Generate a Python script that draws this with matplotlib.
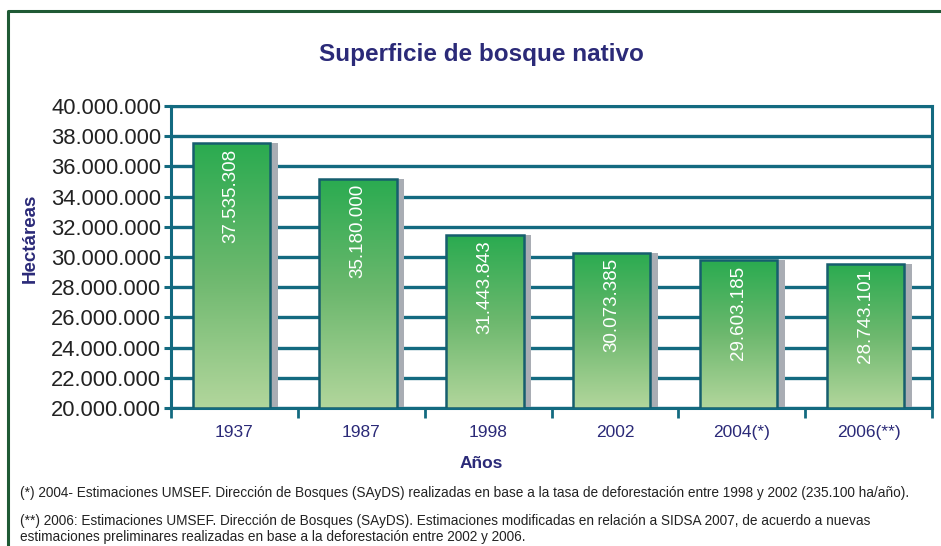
import matplotlib
matplotlib.use("Agg")
import matplotlib.pyplot as plt
import numpy as np
from matplotlib.colors import LinearSegmentedColormap
from matplotlib.lines import Line2D

categories = ["1937", "1987", "1998", "2002", "2004(*)", "2006(**)"]
bar_heights = [37535308, 35180000, 31443843, 30290000, 29780000, 29540000]
value_labels = ["37.535.308", "35.180.000", "31.443.843", "30.073.385", "29.603.185", "28.743.101"]
yticks = list(range(20000000, 40000001, 2000000))
ytick_labels = ["{:,}".format(v).replace(",", ".") for v in yticks]

title = "Superficie de bosque nativo"
xlabel = "Años"
ylabel = "Hectáreas"
notes = [
    "(*) 2004- Estimaciones UMSEF. Dirección de Bosques (SAyDS) realizadas en base a la tasa de deforestación entre 1998 y 2002 (235.100 ha/año).",
    "(**) 2006: Estimaciones UMSEF. Dirección de Bosques (SAyDS). Estimaciones modificadas en relación a SIDSA 2007, de acuerdo a nuevas\nestimaciones preliminares realizadas en base a la deforestación entre 2002 y 2006.",
]

navy = "#2b2a78"
teal = "#136a80"
edge = "#165e6e"
plt.rcParams['font.family'] = ['Liberation Sans', 'DejaVu Sans']

fig = plt.figure(figsize=(9.41, 5.46), dpi=100)
ax = fig.add_axes([171/941, 1-408/546, (932-171)/941, (408-106)/546])

ymin, ymax = 20000000, 40000000
ax.set_ylim(ymin, ymax)
ax.set_xlim(-0.5, len(categories) - 0.5)

cmap = LinearSegmentedColormap.from_list("g", ["#b2d69c", "#6db86e", "#2aab50"])
grad = np.linspace(0, 1, 256).reshape(-1, 1)
w = 0.61
x = np.arange(len(categories))
for i, h in enumerate(bar_heights):
    xc = x[i] - 0.025
    ax.bar(xc + 0.06, h - ymin, bottom=ymin, width=w, color="#a9adb4", zorder=2, linewidth=0)
    bars = ax.bar(xc, h - ymin, bottom=ymin, width=w, facecolor="none",
                  edgecolor=edge, linewidth=1.8, zorder=4)
    im = ax.imshow(grad, extent=[xc-w/2, xc+w/2, ymin, h], origin="lower",
                   aspect="auto", cmap=cmap, zorder=3)
    im.set_clip_path(bars[0])
    ax.text(xc, h - 350000, value_labels[i], rotation=90, ha="center", va="top",
            color="white", fontsize=13.5, zorder=5)

ax.set_aspect("auto")
ax.set_yticks(yticks)
ax.set_yticklabels(ytick_labels, fontsize=15.8, color="#222222")
ax.yaxis.grid(True, color=teal, linewidth=2.4, zorder=1)
ax.set_axisbelow(True)
ax.tick_params(axis="y", length=5, width=2.2, color=teal, pad=2)
ax.set_xticks(np.arange(-0.5, len(categories), 1.0))
ax.set_xticklabels([])
ax.set_xticks(x, minor=True)
ax.set_xticklabels(categories, minor=True, fontsize=12.5, color=navy)
ax.tick_params(axis="x", which="major", length=7, width=2, color=teal)
ax.tick_params(axis="x", which="minor", length=0, pad=12)
for s in ax.spines.values():
    s.set_color(teal)
    s.set_linewidth(2.2)

fig.text(481/941, 1-55/546, title, ha="center", va="center", fontsize=17.5,
         fontweight="bold", color=navy)
fig.text(481/941, 1-463/546, xlabel, ha="center", va="center", fontsize=12.5,
         fontweight="bold", color=navy)
fig.text(30/941, 1-238/546, ylabel, ha="center", va="center", rotation=90,
         fontsize=13.5, fontweight="bold", color=navy)

fig.text(20/941, 1-493/546, notes[0], ha="left", va="center", fontsize=9.8,
         color="#222222")
fig.text(20/941, 1-529/546, notes[1], ha="left", va="center", fontsize=9.8,
         color="#222222", linespacing=1.15)

fig.add_artist(Line2D([8/941, 8/941, 1.0], [0, 1-11/546, 1-11/546],
                      transform=fig.transFigure, color="#1f5a35", linewidth=2.2))

fig.savefig("out.png", dpi=100)
